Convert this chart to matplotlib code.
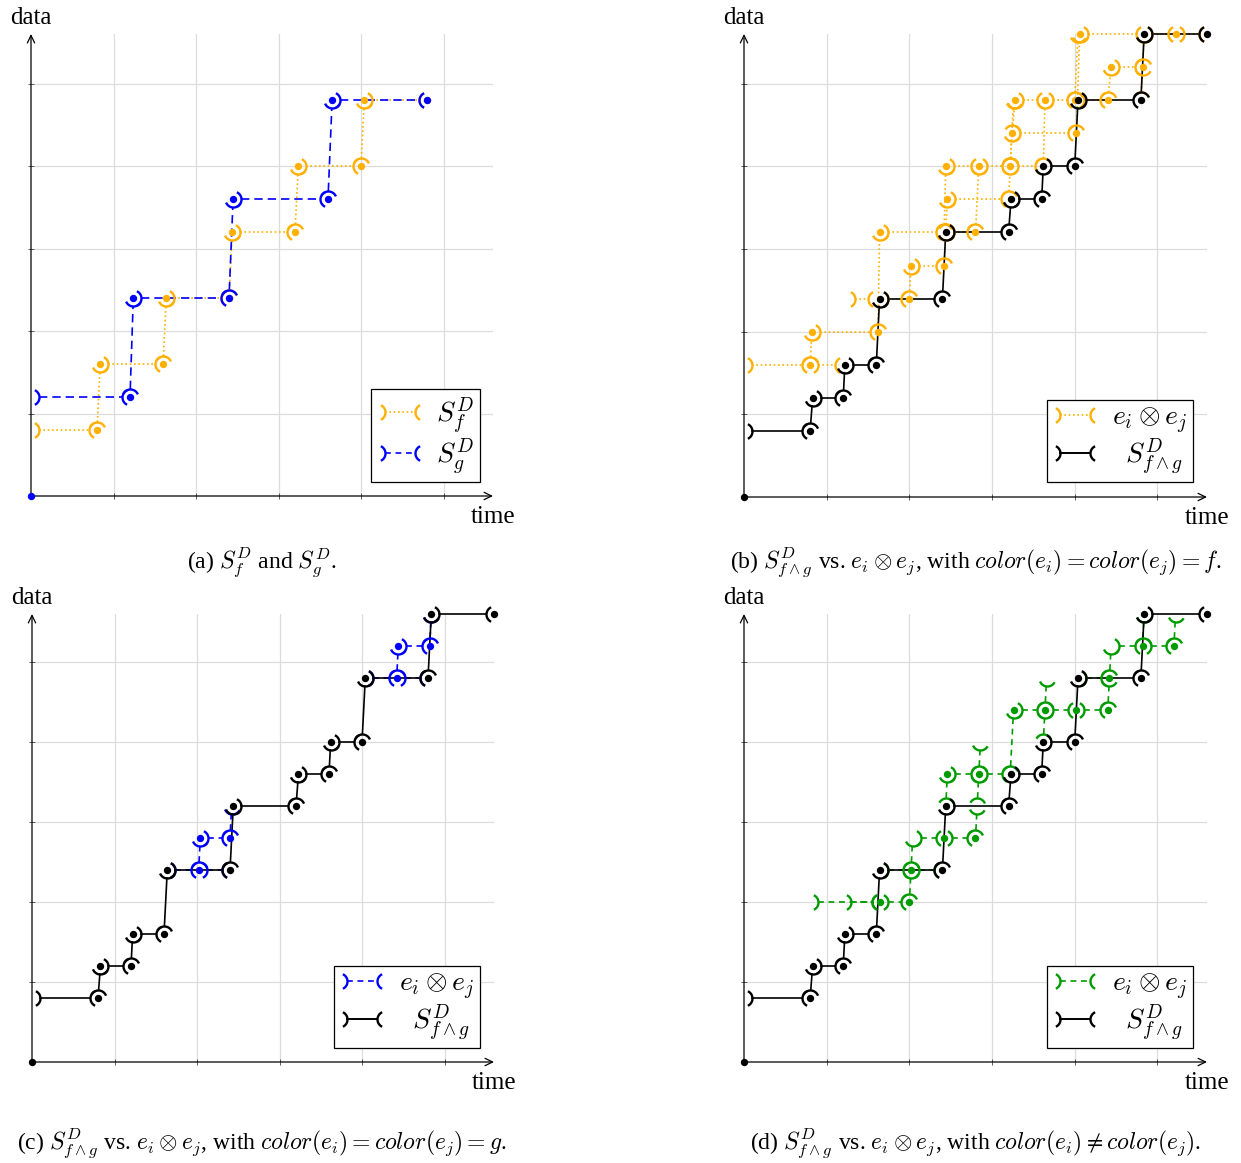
import matplotlib
matplotlib.use("Agg")
import matplotlib.pyplot as plt
import numpy as np
from matplotlib.path import Path
from matplotlib.lines import Line2D
from matplotlib.legend_handler import HandlerBase

plt.rcParams["font.family"] = ["Liberation Serif", "DejaVu Serif"]
plt.rcParams["mathtext.fontset"] = "cm"

ORANGE = "#FFB000"
BLUE = "#0000FF"
GREEN = "#009B00"
BLACK = "#000000"

# (a) step signals S_f and S_g, vertices (time, data)
sf_time = [0, 4, 4.2, 8, 8.2, 12, 12.2, 16, 16.2, 20, 20.2, 24]
sf_data = [4, 4, 8, 8, 12, 12, 16, 16, 20, 20, 24, 24]
sg_time = [0, 6, 6.2, 12, 12.25, 18, 18.25, 24]
sg_data = [6, 6, 12, 12, 18, 18, 24, 24]

# S_{f^g}, same in (b), (c), (d)
fg_time = [0, 4, 4.15, 6, 6.1, 8, 8.2, 12, 12.2, 16, 16.15, 18, 18.1, 20, 20.2, 24, 24.2, 28]
fg_data = [4, 4, 6, 6, 8, 8, 12, 12, 16, 16, 18, 18, 20, 20, 24, 24, 28, 28]

# e_i (x) e_j pieces: (t0, d0, t1, d1)
b_pieces = [
    (0, 8, 4, 8), (4, 8, 6, 8), (4.1, 10, 8.1, 10), (6.2, 12, 8, 12),
    (8.2, 12, 10, 12), (10.1, 14, 12.1, 14), (8.2, 16, 12.1, 16), (12.2, 16, 14, 16),
    (12.3, 18, 16, 18), (12.2, 20, 14.2, 20), (14.2, 20, 16.1, 20), (16.1, 20, 18.1, 20),
    (16.2, 22, 20.1, 22), (16.4, 24, 18.2, 24), (18.2, 24, 20, 24), (20.1, 24, 22, 24),
    (22.2, 26, 24.1, 26), (20.3, 28, 24.2, 28), (24.2, 28, 26.1, 28), (26.1, 28, 28, 28),
    (4, 8, 4.1, 10), (8.1, 10, 8.2, 16), (10, 12, 10.1, 14), (12.1, 14, 12.2, 16),
    (12.2, 16, 12.3, 18), (12.1, 16, 12.2, 20), (14, 16, 14.2, 20), (16, 18, 16.1, 20),
    (16.1, 20, 16.2, 22), (16.2, 22, 16.4, 24), (16.1, 20, 16.3, 24), (18.1, 20, 18.2, 24),
    (20.1, 22, 20.3, 28), (20, 24, 20.2, 28), (22, 24, 22.2, 26), (24, 24, 24.1, 26),
    (24.1, 26, 24.2, 28),
]
b_dots = [
    (4, 8), (4.1, 10), (8.1, 10), (10, 12), (10.1, 14), (12.1, 14), (8.2, 16), (14, 16),
    (12.3, 18), (12.2, 20), (14.2, 20), (16.1, 20), (16.2, 22), (20.1, 22), (16.4, 24),
    (18.2, 24), (20, 24), (22, 24), (22.2, 26), (24.1, 26), (20.3, 28), (26.1, 28),
]

c_pieces = [
    (8.2, 12, 10.1, 12), (10.1, 12, 12, 12), (10.2, 14, 12, 14),
    (20.2, 24, 22.1, 24), (22.1, 24, 24, 24), (22.2, 26, 24.1, 26),
    (10.1, 12, 10.2, 14), (12, 14, 12.1, 16), (22.1, 24, 22.2, 26), (24.1, 26, 24.2, 28),
]
c_dots = [(10.1, 12), (10.2, 14), (12, 14), (22.1, 24), (22.2, 26), (24.1, 26)]

d_pieces = [
    (4, 10, 8.2, 10), (6, 10, 8.2, 10), (8.2, 10, 10, 10),
    (8.2, 12, 10.1, 12), (10.1, 12, 12, 12), (10.2, 14, 12.1, 14), (12.1, 14, 14, 14),
    (12.3, 18, 14.2, 18), (14.2, 18, 16.1, 18), (16.3, 22, 18.2, 22), (18.2, 22, 20.1, 22),
    (20.1, 22, 22, 22), (20.2, 24, 22.1, 24), (22.2, 26, 24.1, 26), (24.1, 26, 26, 26),
    (10, 10, 10.1, 12), (10.1, 12, 10.2, 14), (14, 14, 14.1, 16), (14.1, 16, 14.2, 18),
    (14.2, 18, 14.3, 20), (12.2, 16, 12.3, 18), (16.1, 18, 16.3, 22), (18.1, 20, 18.2, 22),
    (18.2, 22, 18.3, 24), (22, 22, 22.1, 24), (22.1, 24, 22.2, 26), (24.1, 26, 24.2, 28),
    (26, 26, 26.1, 28),
]
d_dots = [
    (8.2, 10), (10, 10), (10.1, 12), (12.1, 14), (14, 14), (12.3, 18), (14.2, 18),
    (16.3, 22), (18.2, 22), (20.1, 22), (22, 22), (22.1, 24), (24.1, 26), (26, 26),
]

R = 8.0  # bracket radius, pixels
DOTTED = (0, (1, 1.6))
DASHED = (0, (3.5, 2.8))
DASHED_LONG = (0, (5, 3))


def bracket(angle, half=65):
    th = np.radians(np.linspace(angle - half, angle + half, 27))
    return Path(np.column_stack([np.cos(th), np.sin(th)]))


def steps(t, d):
    return list(zip(t[:-1], d[:-1], t[1:], d[1:]))


def draw_pieces(ax, segs, dots, color, ls, zl, lw=1.2):
    to_px = ax.transData.transform
    to_data = ax.transData.inverted().transform
    for x0, y0, x1, y1 in segs:
        p0, p1 = to_px((x0, y0)), to_px((x1, y1))
        u = (p1 - p0) / np.hypot(*(p1 - p0))
        ang = np.degrees(np.arctan2(u[1], u[0]))
        q0, q1 = to_data(p0 + u * R), to_data(p1 - u * R)
        ax.plot([q0[0], q1[0]], [q0[1], q1[1]], color=color, ls=ls, lw=lw,
                zorder=zl, clip_on=False)
        for (x, y), a in (((x0, y0), ang), ((x1, y1), ang + 180)):
            ax.plot(x, y, marker=bracket(a), ms=2 * R * 0.72, mfc="none", mec=color,
                    mew=1.7, zorder=zl + 2, clip_on=False)
    dx, dy = zip(*dots)
    ax.plot(dx, dy, "o", ms=5.3, color=color, mec="none", zorder=zl + 4, clip_on=False)


class BracketHandler(HandlerBase):
    def create_artists(self, legend, orig, xd, yd, w, h, fs, trans):
        y = h / 2 - yd
        x0, x1 = -xd, -xd + w
        r = R * 0.72
        line = Line2D([x0 + r, x1 - r], [y, y])
        line.update_from(orig)
        left = Line2D([x0], [y], marker=bracket(0), ms=2 * r, mfc="none",
                      mec=orig.get_color(), mew=1.7, ls="none")
        right = Line2D([x1], [y], marker=bracket(180), ms=2 * r, mfc="none",
                       mec=orig.get_color(), mew=1.7, ls="none")
        for a in (line, left, right):
            a.set_transform(trans)
        return [line, left, right]


def setup(fig, pos):
    ax = fig.add_axes(pos)
    ax.set_xlim(0, 28)
    ax.set_ylim(0, 28)
    ticks = [5, 10, 15, 20, 25]
    ax.set_xticks(ticks)
    ax.set_yticks(ticks)
    ax.set_xticklabels([])
    ax.set_yticklabels([])
    ax.tick_params(direction="inout", length=5, width=0.6, color="#444444")
    ax.grid(color="#dcdcdc", lw=0.9)
    for s in ax.spines.values():
        s.set_visible(False)
    arrow = dict(arrowstyle="->,head_length=0.45,head_width=0.22", lw=0.9,
                 color="k", shrinkA=0, shrinkB=0, mutation_scale=12)
    ax.annotate("", xy=(1, 0), xytext=(0, 0), xycoords="axes fraction",
                arrowprops=arrow, zorder=2.5)
    ax.annotate("", xy=(0, 1), xytext=(0, 0), xycoords="axes fraction",
                arrowprops=arrow, zorder=2.5)
    ax.annotate("data", xy=(0, 1), xycoords="axes fraction", xytext=(0, 7),
                textcoords="offset points", ha="center", va="baseline", fontsize=18)
    ax.annotate("time", xy=(1, 0), xycoords="axes fraction", xytext=(0, -7),
                textcoords="offset points", ha="center", va="top", fontsize=18)
    return ax


def add_legend(ax, handles, labels, anchor):
    leg = ax.legend(handles, labels, loc="lower right", bbox_to_anchor=anchor,
                    borderaxespad=0, fontsize=20, handlelength=1.65, handletextpad=0.5,
                    labelspacing=0.0, borderpad=0.2, fancybox=False, framealpha=1,
                    edgecolor="k", handler_map={Line2D: BracketHandler()})
    leg.get_frame().set_linewidth(0.9)
    leg.set_zorder(20)


W, H = 1241, 1163
fig = plt.figure(figsize=(W / 100, H / 100), dpi=100)

# (a)
ax = setup(fig, [31 / W, 1 - 496 / H, 462 / W, 462 / H])
draw_pieces(ax, steps(sf_time, sf_data), list(zip(sf_time, sf_data))[1:], ORANGE, DOTTED, 2)
draw_pieces(ax, steps(sg_time, sg_data), list(zip(sg_time, sg_data))[1:], BLUE, DASHED_LONG, 3)
ax.plot(0, 0, "o", ms=5.3, color=BLUE, mec="none", zorder=9, clip_on=False)
add_legend(ax, [Line2D([], [], color=ORANGE, ls=DOTTED, lw=1.2),
                Line2D([], [], color=BLUE, ls=DASHED, lw=1.2)],
           [r"$S_f^D$", r"$S_g^D$"], (0.972, 0.030))

# (b), (c), (d)
panels = [
    ([744 / W, 1 - 497 / H, 463 / W, 463 / H], b_pieces, b_dots, ORANGE, DOTTED, (0.970, 0.032)),
    ([32 / W, 1 - 1062 / H, 462 / W, 448 / H], c_pieces, c_dots, BLUE, DASHED, (0.970, 0.031)),
    ([744 / W, 1 - 1062 / H, 463 / W, 448 / H], d_pieces, d_dots, GREEN, DASHED, (0.970, 0.031)),
]
for pos, pieces, dots, col, ls, anchor in panels:
    ax = setup(fig, pos)
    draw_pieces(ax, pieces, dots, col, ls, 2)
    draw_pieces(ax, steps(fg_time, fg_data), list(zip(fg_time, fg_data))[1:], BLACK, "-", 3, lw=1.2)
    ax.plot(0, 0, "o", ms=5.3, color=BLACK, mec="none", zorder=9, clip_on=False)
    add_legend(ax, [Line2D([], [], color=col, ls=ls, lw=1.2),
                    Line2D([], [], color=BLACK, ls="-", lw=1.4)],
               [r"$e_i \otimes e_j$", r"$\;\;S^D_{f\wedge g}$"], anchor)

cap = dict(ha="center", va="center", fontsize=17)
fig.text(262 / W, 1 - 562 / H, r"(a) $S_f^D$ and $S_g^D$.", **cap)
fig.text(976 / W, 1 - 562 / H,
         r"(b) $S^D_{f\wedge g}$ vs. $e_i \otimes e_j$, with $\mathit{color}(e_i) = \mathit{color}(e_j) = f$.", **cap)
fig.text(262 / W, 1 - 1143 / H,
         r"(c) $S^D_{f\wedge g}$ vs. $e_i \otimes e_j$, with $\mathit{color}(e_i) = \mathit{color}(e_j) = g$.", **cap)
fig.text(976 / W, 1 - 1143 / H,
         r"(d) $S^D_{f\wedge g}$ vs. $e_i \otimes e_j$, with $\mathit{color}(e_i) \neq \mathit{color}(e_j)$.", **cap)

fig.savefig("out.png", dpi=100)
